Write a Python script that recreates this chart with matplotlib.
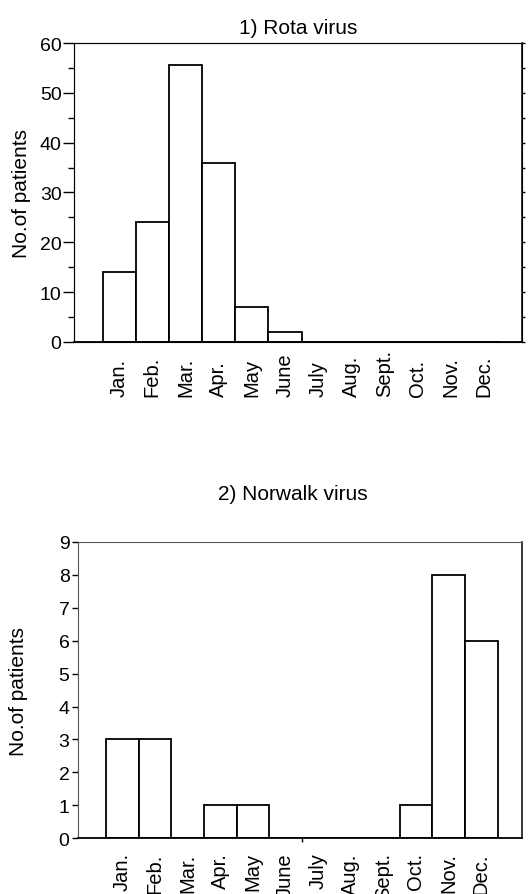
import matplotlib.pyplot as plt
from matplotlib.ticker import MultipleLocator

plt.rcParams['font.family'] = ['Liberation Sans', 'DejaVu Sans']

months = ["Jan.", "Feb.", "Mar.", "Apr.", "May", "June", "July",
          "Aug.", "Sept.", "Oct.", "Nov.", "Dec."]
rota = [14, 24, 55.5, 36, 7, 2, 0, 0, 0, 0, 0, 0]
norwalk = [3, 3, 0, 1, 1, 0, 0, 0, 0, 1, 8, 6]

fig = plt.figure(figsize=(5.3, 8.95), dpi=100)

# 1) Rota virus
ax1 = fig.add_axes([0.1396, 0.6168, 0.8454, 0.334])
x = list(range(len(months)))
ax1.bar(x, rota, width=1.0, color="white", edgecolor="black", linewidth=1.3)
ax1.set_xlim(-1.36, 12.14)
ax1.set_ylim(0, 60)
ax1.yaxis.set_major_locator(MultipleLocator(10))
ax1.yaxis.set_minor_locator(MultipleLocator(5))
ax1.tick_params(axis="y", which="major", direction="out", length=8, width=1,
                labelsize=14, pad=1)
ax1.tick_params(axis="y", which="minor", direction="out", length=4, width=1)
ax1.set_xticks([])
ax1.spines["top"].set_color("#555555")
ax1.spines["left"].set_color("#555555")
ax1.spines["bottom"].set_linewidth(1.3)
ax1.spines["right"].set_linewidth(1.1)
ax1.set_ylabel("No.of patients", fontsize=15, labelpad=6)
ax1.set_title("1) Rota virus", fontsize=15, pad=7)
for i, m in enumerate(months):
    ax1.text(i, -0.18, m, transform=ax1.get_xaxis_transform(), rotation=90,
             ha="center", va="bottom", fontsize=14.5)
# small ticks on the right spine
ax1r = ax1.twinx()
ax1r.set_ylim(0, 60)
ax1r.yaxis.set_major_locator(MultipleLocator(5))
ax1r.tick_params(axis="y", direction="out", length=2, width=1, labelright=False)

# 2) Norwalk virus
ax2 = fig.add_axes([0.147, 0.0622, 0.838, 0.3314])
ax2.bar(x, norwalk, width=1.0, color="white", edgecolor="black", linewidth=1.3)
ax2.set_xlim(-1.36, 12.25)
ax2.set_ylim(0, 9)
ax2.yaxis.set_major_locator(MultipleLocator(1))
ax2.tick_params(axis="y", direction="out", length=4, width=1,
                labelsize=14, pad=2)
ax2.set_xticks([5.5])
ax2.set_xticklabels([""])
ax2.tick_params(axis="x", direction="out", length=3, width=1)
ax2.spines["top"].set_color("#555555")
ax2.spines["left"].set_color("#555555")
ax2.spines["bottom"].set_linewidth(1.3)
ax2.spines["right"].set_linewidth(1.1)
ax2.set_ylabel("No.of patients", fontsize=15, labelpad=22)
for i, m in enumerate(months):
    ax2.text(i, -0.047, m, transform=ax2.get_xaxis_transform(), rotation=90,
             ha="center", va="top", fontsize=14.5)
fig.text(0.5525, 0.447, "2) Norwalk virus", ha="center",
         va="center", fontsize=15)

fig.savefig("out.png", dpi=100)
